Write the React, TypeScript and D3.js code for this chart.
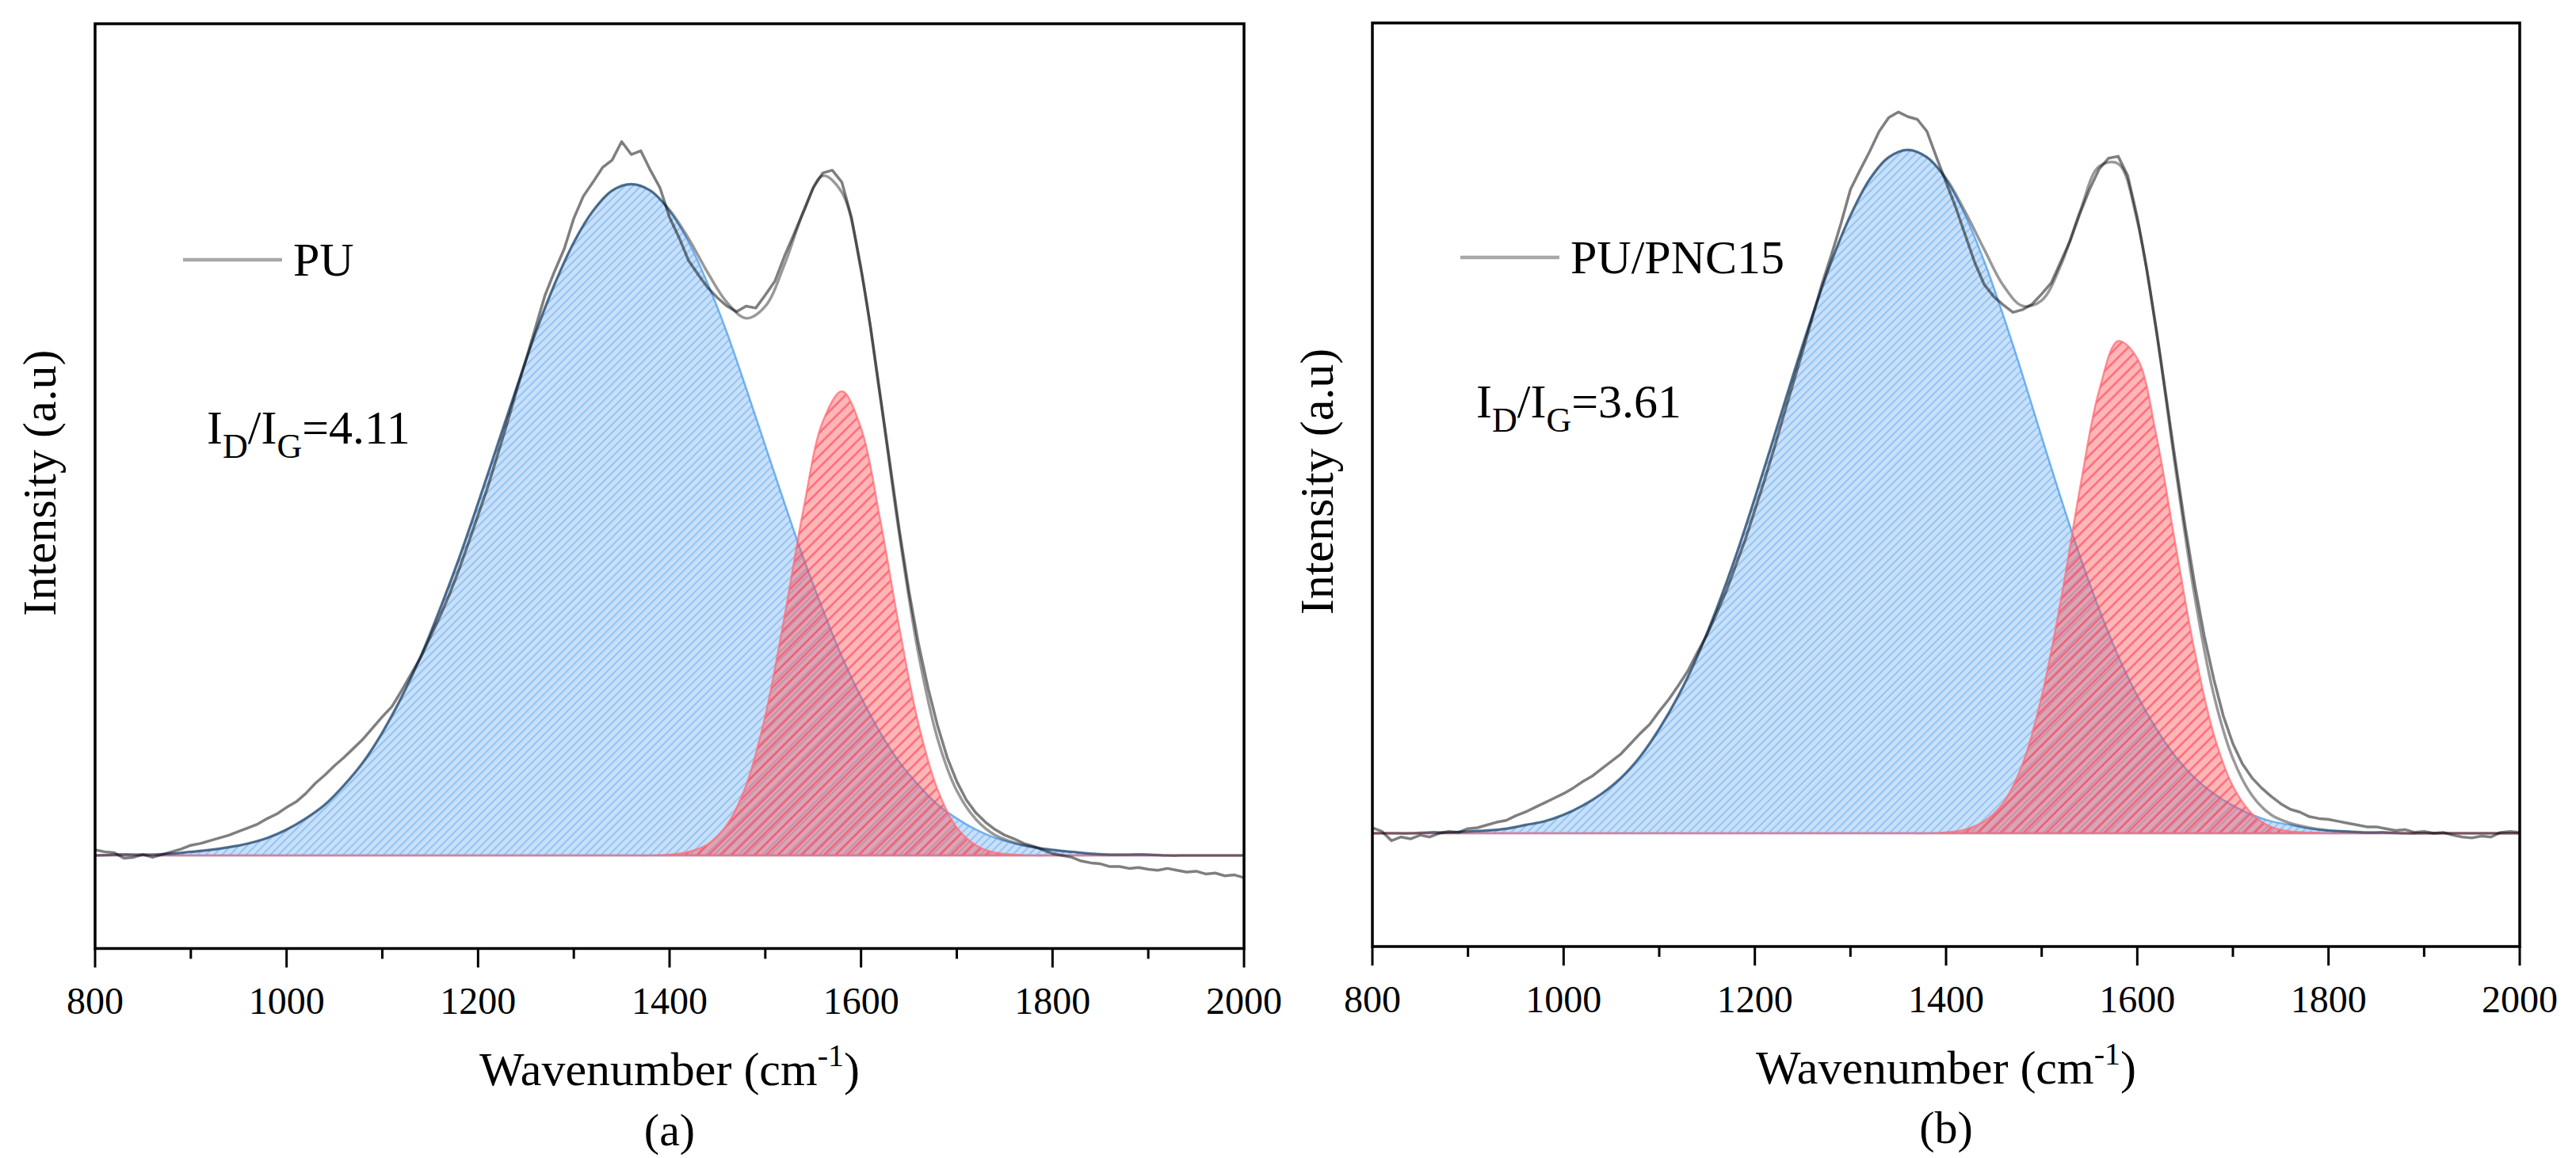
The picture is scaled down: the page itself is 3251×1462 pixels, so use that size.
import React from 'react';
import * as d3 from 'd3';

// ---------- data (intensity in a.u., baseline = 0) ----------
const X_TICKS = [800, 1000, 1200, 1400, 1600, 1800, 2000];
const X_MINOR = [900, 1100, 1300, 1500, 1700, 1900];
const WN_FIT = d3.range(800, 2001, 20); // grid of fitted bands
const WN_RAW = d3.range(800, 2001, 10); // grid of measured spectrum

// (a) PU
const PU_RAW = [
  0.006, 0.004, 0.003, -0.003, -0.002, 0.001, -0.002, 0.001, 0.004, 0.007,
  0.011, 0.013, 0.016, 0.019, 0.022, 0.026, 0.030, 0.034, 0.040, 0.045,
  0.052, 0.058, 0.067, 0.078, 0.087, 0.097, 0.106, 0.116, 0.126, 0.138,
  0.150, 0.161, 0.178, 0.196, 0.214, 0.236, 0.258, 0.282, 0.309, 0.338,
  0.368, 0.398, 0.432, 0.466, 0.502, 0.536, 0.571, 0.606, 0.632, 0.656,
  0.689, 0.713, 0.728, 0.744, 0.752, 0.772, 0.758, 0.762, 0.741, 0.722,
  0.690, 0.668, 0.643, 0.628, 0.614, 0.603, 0.594, 0.588, 0.594, 0.592,
  0.606, 0.621, 0.648, 0.672, 0.697, 0.722, 0.738, 0.741, 0.728, 0.690,
  0.635, 0.571, 0.498, 0.425, 0.352, 0.286, 0.229, 0.181, 0.140, 0.106,
  0.080, 0.060, 0.046, 0.036, 0.028, 0.022, 0.018, 0.013, 0.010, 0.006,
  0.002, 0.000, -0.002, -0.006, -0.008, -0.009, -0.012, -0.012, -0.014, -0.013,
  -0.015, -0.016, -0.014, -0.016, -0.018, -0.017, -0.020, -0.019, -0.022, -0.021,
  -0.024,
];
const PU_D = [
  0.000, 0.001, 0.001, 0.001, 0.002, 0.004, 0.006, 0.009, 0.013, 0.019,
  0.028, 0.040, 0.055, 0.076, 0.101, 0.133, 0.171, 0.215, 0.266, 0.321,
  0.381, 0.443, 0.505, 0.565, 0.618, 0.663, 0.697, 0.719, 0.726, 0.719,
  0.697, 0.663, 0.618, 0.565, 0.505, 0.443, 0.381, 0.321, 0.266, 0.215,
  0.171, 0.133, 0.101, 0.076, 0.055, 0.040, 0.028, 0.019, 0.013, 0.009,
  0.006, 0.004, 0.002, 0.001, 0.001, 0.001, 0.000, 0.000, 0.000, 0.000,
  0.000,
];
const PU_G = [
  0, 0, 0, 0, 0, 0, 0, 0, 0, 0,
  0, 0, 0, 0, 0, 0, 0, 0, 0, 0,
  0, 0, 0, 0, 0, 0, 0, 0, 0, 0,
  0.001, 0.004, 0.012, 0.033, 0.076, 0.151, 0.258, 0.375, 0.469, 0.502,
  0.462, 0.363, 0.246, 0.142, 0.071, 0.030, 0.011, 0.003, 0.001, 0.000,
  0, 0, 0, 0, 0, 0, 0, 0, 0, 0,
  0,
];

// (b) PU/PNC15
const PNC_RAW = [
  0.006, 0.002, -0.008, -0.004, -0.006, -0.002, -0.004, 0.000, 0.002, 0.001,
  0.005, 0.006, 0.009, 0.012, 0.014, 0.019, 0.023, 0.028, 0.033, 0.038,
  0.043, 0.049, 0.056, 0.062, 0.070, 0.078, 0.086, 0.097, 0.108, 0.118,
  0.132, 0.145, 0.160, 0.176, 0.196, 0.215, 0.238, 0.262, 0.290, 0.318,
  0.350, 0.382, 0.416, 0.452, 0.487, 0.522, 0.558, 0.594, 0.626, 0.660,
  0.697, 0.718, 0.738, 0.760, 0.775, 0.781, 0.776, 0.773, 0.760, 0.732,
  0.705, 0.678, 0.648, 0.618, 0.594, 0.581, 0.572, 0.564, 0.567, 0.573,
  0.584, 0.596, 0.619, 0.642, 0.671, 0.697, 0.719, 0.731, 0.733, 0.712,
  0.667, 0.610, 0.545, 0.474, 0.402, 0.333, 0.270, 0.214, 0.167, 0.127,
  0.097, 0.075, 0.060, 0.049, 0.040, 0.032, 0.026, 0.023, 0.018, 0.016,
  0.015, 0.013, 0.011, 0.009, 0.007, 0.007, 0.005, 0.003, 0.004, 0.001,
  0.002, 0.000, 0.001, -0.002, -0.004, -0.005, -0.003, -0.004, 0.001, 0.002,
  0.001,
];
const PNC_D = [
  0.000, 0.000, 0.000, 0.001, 0.001, 0.002, 0.003, 0.005, 0.009, 0.013,
  0.020, 0.030, 0.043, 0.060, 0.083, 0.113, 0.149, 0.192, 0.243, 0.300,
  0.363, 0.429, 0.496, 0.560, 0.619, 0.669, 0.708, 0.732, 0.740, 0.732,
  0.708, 0.669, 0.619, 0.560, 0.496, 0.429, 0.363, 0.300, 0.243, 0.192,
  0.149, 0.113, 0.083, 0.060, 0.043, 0.030, 0.020, 0.013, 0.009, 0.005,
  0.003, 0.002, 0.001, 0.001, 0.000, 0.000, 0.000, 0.000, 0.000, 0.000,
  0.000,
];
const PNC_G = [
  0, 0, 0, 0, 0, 0, 0, 0, 0, 0,
  0, 0, 0, 0, 0, 0, 0, 0, 0, 0,
  0, 0, 0, 0, 0, 0, 0, 0, 0, 0,
  0.001, 0.004, 0.013, 0.033, 0.075, 0.148, 0.252, 0.373, 0.479, 0.533,
  0.514, 0.430, 0.312, 0.197, 0.107, 0.051, 0.021, 0.007, 0.002, 0.001,
  0, 0, 0, 0, 0, 0, 0, 0, 0, 0,
  0,
];

const LEGENDS = ['PU', 'PU/PNC15'];
const RATIOS = ['4.11', '3.61'];
const TAGS = ['(a)', '(b)'];

// ---------- layout ----------
const PANELS = [
  {
    raw: PU_RAW, dBand: PU_D, gBand: PU_G, legend: LEGENDS[0], ratio: RATIOS[0], tag: TAGS[0],
    left: 120, right: 1570, top: 30, bottom: 1197.5, yDomain: [-0.1006, 0.8994],
    legY: 328, ratioX: 261, ratioY: 560,
  },
  {
    raw: PNC_RAW, dBand: PNC_D, gBand: PNC_G, legend: LEGENDS[1], ratio: RATIOS[1], tag: TAGS[1],
    left: 1732, right: 3180, top: 29, bottom: 1195, yDomain: [-0.1226, 0.8774],
    legY: 325, ratioX: 1863, ratioY: 527,
  },
];

const FONT = '"Liberation Serif", "Times New Roman", Times, serif';

function Panel({ p }: { p: any }) {
  const x = d3.scaleLinear().domain([800, 2000]).range([p.left, p.right]);
  const y = d3.scaleLinear().domain(p.yDomain).range([p.bottom, p.top]);
  const curve = d3.curveCatmullRom.alpha(0.5);

  const area = d3
    .area<number>()
    .x((_, i) => x(WN_FIT[i]))
    .y0(y(0))
    .y1((d) => y(d))
    .curve(curve);
  const fitLine = d3
    .line<number>()
    .x((_, i) => x(WN_FIT[i]))
    .y((d) => y(d))
    .curve(curve);
  const rawLine = d3
    .line<number>()
    .x((_, i) => x(WN_RAW[i]))
    .y((d) => y(d));

  const cumulative = p.dBand.map((d: number, i: number) => d + p.gBand[i]);
  const dPath = area(p.dBand) || '';
  const gPath = area(p.gBand) || '';
  const cx = (p.left + p.right) / 2;
  const cy = (p.top + p.bottom) / 2;

  return (
    <g>
      {/* D band */}
      <path d={dPath} fill="rgba(134,186,240,0.45)" stroke="none" />
      <path d={dPath} fill="url(#hatchBlue)" stroke="rgba(90,165,240,0.85)" strokeWidth={2.5} />
      {/* G band */}
      <path d={gPath} fill="rgba(255,80,80,0.42)" stroke="none" />
      <path d={gPath} fill="url(#hatchRed)" stroke="rgba(255,110,120,0.75)" strokeWidth={2.5} />
      {/* cumulative fit */}
      <path d={fitLine(cumulative) || ''} fill="none" stroke="rgba(0,0,0,0.4)" strokeWidth={3.5} />
      {/* measured spectrum */}
      <path d={rawLine(p.raw) || ''} fill="none" stroke="rgba(0,0,0,0.5)" strokeWidth={3.5} strokeLinejoin="round" />

      {/* frame */}
      <rect
        x={p.left}
        y={p.top}
        width={p.right - p.left}
        height={p.bottom - p.top}
        fill="none"
        stroke="#000"
        strokeWidth={3.5}
      />
      {X_TICKS.map((t) => (
        <line key={'M' + t} x1={x(t)} x2={x(t)} y1={p.bottom} y2={p.bottom + 24} stroke="#000" strokeWidth={3} />
      ))}
      {X_MINOR.map((t) => (
        <line key={'m' + t} x1={x(t)} x2={x(t)} y1={p.bottom} y2={p.bottom + 13} stroke="#000" strokeWidth={3} />
      ))}
      {X_TICKS.map((t) => (
        <text key={'l' + t} x={x(t)} y={p.bottom + 82.5} fontSize={48} textAnchor="middle" fill="#000">
          {t}
        </text>
      ))}

      {/* axis titles */}
      <text x={cx} y={p.bottom + 172.5} fontSize={60} textAnchor="middle" fill="#000">
        Wavenumber (cm
        <tspan fontSize={40} dy={-24}>-1</tspan>
        <tspan fontSize={60} dy={24}>)</tspan>
      </text>
      <text x={cx} y={p.bottom + 248} fontSize={58} textAnchor="middle" fill="#000">
        {p.tag}
      </text>
      <text
        transform={`translate(${p.left - 50},${cy - 4}) rotate(-90)`}
        fontSize={60}
        textAnchor="middle"
        fill="#000"
      >
        Intensity (a.u)
      </text>

      {/* legend */}
      <line x1={p.left + 111} x2={p.left + 236} y1={p.legY} y2={p.legY} stroke="rgba(0,0,0,0.34)" strokeWidth={4.5} />
      <text x={p.left + 250} y={p.legY + 20} fontSize={60} fill="#000">
        {p.legend}
      </text>

      {/* ratio */}
      <text x={p.ratioX} y={p.ratioY} fontSize={60} fill="#000">
        I<tspan fontSize={44} dy={18}>D</tspan>
        <tspan fontSize={60} dy={-18}>/I</tspan>
        <tspan fontSize={44} dy={18}>G</tspan>
        <tspan fontSize={60} dy={-18}>={p.ratio}</tspan>
      </text>
    </g>
  );
}

export default function App() {
  const W = 3251;
  const H = 1462;
  return (
    <svg
      width={W}
      height={H}
      viewBox={`0 0 ${W} ${H}`}
      style={{ position: 'absolute', left: 0, top: 0, display: 'block', background: '#fff' }}
      fontFamily={FONT}
    >
      <defs>
        <pattern id="hatchBlue" patternUnits="userSpaceOnUse" width={7.2} height={7.2} patternTransform="rotate(45)">
          <line x1={3.6} y1={0} x2={3.6} y2={7.2} stroke="rgba(110,175,245,0.6)" strokeWidth={2} />
        </pattern>
        <pattern id="hatchRed" patternUnits="userSpaceOnUse" width={10.3} height={10.3} patternTransform="rotate(45)">
          <line x1={5.15} y1={0} x2={5.15} y2={10.3} stroke="rgba(255,60,85,0.6)" strokeWidth={2.6} />
        </pattern>
      </defs>
      <rect x={0} y={0} width={W} height={H} fill="#fff" />
      {PANELS.map((p, i) => (
        <Panel key={i} p={p} />
      ))}
    </svg>
  );
}
